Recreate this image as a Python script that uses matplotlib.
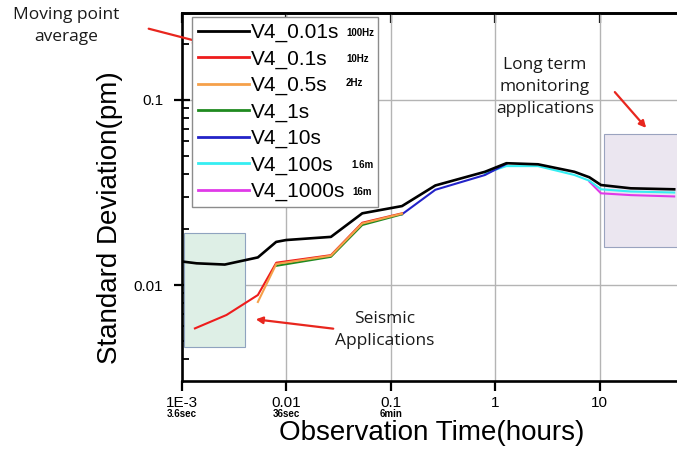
"""Standard deviation vs observation time for moving point averages."""

import matplotlib
matplotlib.use("Agg")
import matplotlib.pyplot as plt
from matplotlib.patches import Rectangle
from matplotlib.ticker import LogLocator, NullFormatter, NullLocator

W, H = 677, 449

# observation time (hours) / standard deviation (pm)
hours_001 = [0.001, 0.00138, 0.00257, 0.00533, 0.00798, 0.00993, 0.0267, 0.0533,
             0.128, 0.267, 0.798, 1.28, 2.57, 5.74, 7.98, 10.3, 19.9, 51.8]
sd_001 = [0.0134, 0.0131, 0.0129, 0.0141, 0.0171, 0.0175, 0.0182, 0.0244,
          0.0267, 0.0345, 0.0409, 0.0455, 0.0449, 0.0409, 0.0382, 0.0347, 0.0333, 0.0329]

hours_01 = [0.00133, 0.00267, 0.00533, 0.008, 0.0267, 0.0533, 0.128]
sd_01 = [0.00583, 0.00689, 0.00883, 0.0132, 0.0145, 0.0217, 0.0244]

hours_05 = [0.00533, 0.008, 0.0267, 0.0533, 0.128]
sd_05 = [0.0081, 0.0130, 0.0144, 0.0215, 0.0243]

hours_1 = [0.008, 0.0267, 0.0533, 0.128]
sd_1 = [0.0127, 0.0142, 0.0211, 0.0241]

hours_10 = [0.128, 0.267, 0.798, 1.28]
sd_10 = [0.0241, 0.0327, 0.0393, 0.0451]

hours_100 = [0.798, 1.28, 2.57, 5.74, 7.98, 10.3, 19.9, 51.8]
sd_100 = [0.0402, 0.0439, 0.0439, 0.0393, 0.0366, 0.0329, 0.0320, 0.0316]

hours_1000 = [7.98, 10.3, 19.9, 51.8]
sd_1000 = [0.0362, 0.0313, 0.0306, 0.0301]

labels = ["V4_0.01s", "V4_0.1s", "V4_0.5s", "V4_1s", "V4_10s", "V4_100s", "V4_1000s"]
rates = ["100Hz", "10Hz", "2Hz", "", "", "1.6m", "16m"]
x_ticks = [1e-3, 0.01, 0.1, 1, 10]
x_tick_labels = ["1E-3", "0.01", "0.1", "1", "10"]
x_sub_labels = ["3.6sec", "36sec", "6min"]
y_ticks = [0.01, 0.1]
y_tick_labels = ["0.01", "0.1"]

# shaded regions: (x0, x1, y0, y1)
seismic_box = (0.00105, 0.00405, 0.00465, 0.0192)
longterm_box = (10.9, 100, 0.016, 0.0655)


def px(x, y):
    """pixel position -> figure fraction"""
    return x / W, 1 - y / H


plt.rcParams["font.family"] = ["Liberation Sans", "DejaVu Sans"]

fig = plt.figure(figsize=(W / 100, H / 100), dpi=100)
x0, y0 = px(182, 381)
ax = fig.add_axes([x0, y0, (704 - 182) / W, (381 - 12.7) / H])
ax.set_xscale("log")
ax.set_yscale("log")
ax.set_xlim(1e-3, 100)
ax.set_ylim(0.00303, 0.296)

ax.add_patch(Rectangle((seismic_box[0], seismic_box[2]), seismic_box[1] - seismic_box[0],
                       seismic_box[3] - seismic_box[2], facecolor="#deefe6",
                       edgecolor="#8fa3bf", lw=0.8, zorder=1))
ax.add_patch(Rectangle((longterm_box[0], longterm_box[2]), longterm_box[1] - longterm_box[0],
                       longterm_box[3] - longterm_box[2], facecolor="#ebe6f0",
                       edgecolor="#9aa3bf", lw=0.8, zorder=1))

series = [
    (hours_001, sd_001, "#000000", 1.9, 9),
    (hours_01, sd_01, "#ee1c1c", 1.5, 7),
    (hours_05, sd_05, "#f5a04a", 1.5, 8),
    (hours_1, sd_1, "#1f8a1f", 1.5, 6),
    (hours_10, sd_10, "#2323c8", 1.5, 5),
    (hours_100, sd_100, "#35eef2", 1.5, 4),
    (hours_1000, sd_1000, "#e03ae8", 1.5, 3),
]
handles = []
for (hx, sy, color, lw, z), lab in zip(series, labels):
    line, = ax.plot(hx, sy, color=color, lw=lw, zorder=z, label=lab)
    handles.append(line)

ax.grid(True, which="major", color="#b4b4b4", lw=1.0, zorder=0)
ax.set_axisbelow(True)

ax.set_xticks(x_ticks)
ax.set_xticklabels(x_tick_labels)
ax.xaxis.set_minor_locator(NullLocator())
ax.set_yticks(y_ticks)
ax.set_yticklabels(y_tick_labels)
ax.yaxis.set_minor_locator(LogLocator(base=10, subs=range(2, 10)))
ax.yaxis.set_minor_formatter(NullFormatter())
ax.tick_params(axis="x", which="major", direction="out", length=7, width=1.6,
               labelsize=11, pad=4, color="black")
ax.tick_params(axis="y", which="major", direction="inout", length=11, width=1.6,
               labelsize=11, pad=8)
ax.tick_params(axis="y", which="minor", direction="in", length=5, width=1.3)

top = ax.secondary_xaxis("top")
top.set_xticks(x_ticks)
top.set_xticklabels([])
top.xaxis.set_minor_locator(NullLocator())
top.tick_params(direction="in", length=7, width=1.6)
top.spines["top"].set_linewidth(1.9)

for side in ["left", "bottom", "top"]:
    ax.spines[side].set_linewidth(1.9)
ax.spines["right"].set_visible(False)

fig.text(*px(110, 218), "Standard Deviation(pm)", rotation=90, fontsize=20,
         ha="center", va="center")
fig.text(*px(432, 433), "Observation Time(hours)", fontsize=20, ha="center", va="center")

for xt, sub in zip(x_ticks, x_sub_labels):
    ax.annotate(sub, xy=(xt, 0), xycoords=("data", "axes fraction"),
                xytext=(0, -33), textcoords="offset pixels",
                ha="center", va="center", fontsize=7, fontweight="bold")

lx, ly = px(192, 17)
lx1, ly1 = px(378, 204)
leg = ax.legend(handles=handles, loc="upper left", mode="expand",
                bbox_to_anchor=(lx, ly1, lx1 - lx, ly - ly1), bbox_transform=fig.transFigure,
                borderaxespad=0, fontsize=15, handlelength=2.45, handletextpad=0.12,
                labelspacing=0.35, borderpad=0.28, fancybox=False, framealpha=1,
                edgecolor="#8c8c8c")
leg.get_frame().set_linewidth(1.0)
leg.set_zorder(20)
for lh in leg.get_lines():
    lh.set_linewidth(2.0)

rate_pos = [(346, 33), (346, 59), (346, 83), None, None, (351, 165), (352, 192)]
for r, pos in zip(rates, rate_pos):
    if r:
        fig.text(*px(*pos), r, fontsize=7, fontweight="bold", ha="left", va="center",
                 zorder=30)

note_font = dict(family=["Open Sans", "DejaVu Sans"], fontsize=12.5, color="#1a1a1a")
arrow = dict(arrowstyle="-|>", color="#e8261e", lw=1.6, mutation_scale=10)
fig.text(*px(66, 26), "Moving point\naverage", ha="center", va="center",
         linespacing=1.55, **note_font)
ax.annotate("", xy=px(204, 43), xycoords="figure fraction",
            xytext=px(146, 28), textcoords="figure fraction", arrowprops=arrow)
fig.text(*px(385, 330), "Seismic\nApplications", ha="center", va="center",
         linespacing=1.55, **note_font)
ax.annotate("", xy=px(253, 319), xycoords="figure fraction",
            xytext=px(336, 329), textcoords="figure fraction", arrowprops=arrow)
fig.text(*px(545, 87), "Long term\nmonitoring\napplications", ha="center", va="center",
         linespacing=1.5, **note_font)
ax.annotate("", xy=px(648, 130), xycoords="figure fraction",
            xytext=px(613, 90), textcoords="figure fraction", arrowprops=arrow)

fig.savefig("out.png", dpi=100)
plt.close(fig)
